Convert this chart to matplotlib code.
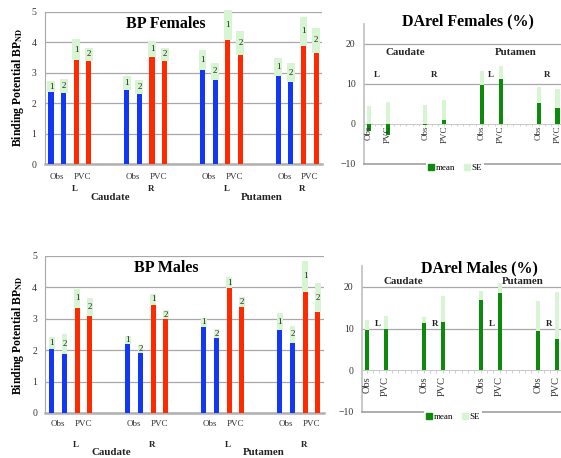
import numpy as np
import matplotlib.pyplot as plt
from matplotlib.lines import Line2D
from matplotlib.transforms import blended_transform_factory

plt.rcParams['font.family'] = ['Liberation Serif', 'DejaVu Serif']
plt.rcParams['mathtext.fontset'] = 'stix'

# --- data ---
regions = ["Caudate", "Putamen"]
sides = ["L", "R"]
methods = ["Obs", "PVC"]
scans = ["1", "2"]

# order per group: Obs1, Obs2, PVC1, PVC2 ; groups: Caud L, Caud R, Put L, Put R
bp_fem_mean = [2.36, 2.34, 3.40, 3.38, 2.43, 2.30, 3.50, 3.38,
               3.07, 2.75, 4.07, 3.57, 2.89, 2.70, 3.88, 3.65]
bp_fem_se = [0.36, 0.45, 0.70, 0.43, 0.46, 0.45, 0.55, 0.43,
             0.67, 0.58, 1.00, 0.80, 0.60, 0.60, 0.95, 0.82]
bp_male_mean = [2.03, 1.89, 3.34, 3.08, 2.19, 1.91, 3.43, 2.98,
                2.74, 2.39, 3.98, 3.38, 2.64, 2.24, 3.86, 3.21]
bp_male_se = [0.37, 0.61, 0.60, 0.56, 0.26, 0.25, 0.36, 0.29,
              0.29, 0.27, 0.33, 0.32, 0.53, 0.52, 0.98, 0.91]

# order: Caud L Obs, PVC, Caud R Obs, PVC, Put L Obs, PVC, Put R Obs, PVC
darel_fem_mean = [-1.7, -2.8, -0.4, 1.0, 9.8, 11.2, 5.2, 4.0]
darel_fem_se = [4.4, 5.5, 4.75, 4.9, 3.4, 3.2, 3.9, 4.6]
darel_male_mean = [9.7, 9.8, 11.35, 11.6, 16.9, 18.6, 9.4, 7.5]
darel_male_se = [2.3, 3.2, 1.35, 6.3, 2.1, 2.4, 7.3, 11.2]

BLUE = "#1238f5"
RED = "#ff2a00"
GREEN = "#0c8a0c"
LIGHT = "#d7f5d2"
GRID = "#a8a8a8"
TXT = "#333333"

W, H = 561, 458
fig = plt.figure(figsize=(W / 100, H / 100), dpi=100)


def px_axes(x0, x1, y_top, y_bot):
    return fig.add_axes([x0 / W, 1 - y_bot / H, (x1 - x0) / W, (y_bot - y_top) / H])


def bp_panel(ax, mean, se, title, title_xy, ylab_y, lab_y, se_w):
    pos = np.array([g * 6 + i for g in range(4) for i in range(4)])
    cols = [BLUE, BLUE, RED, RED] * 4
    ax.bar(pos, mean, width=0.4, color=cols, zorder=3)
    ax.bar(pos, se, bottom=mean, width=se_w, color=LIGHT, zorder=3, clip_on=False)
    for k, p in enumerate(pos):
        ax.text(p, mean[k] + se[k] / 2, scans[k % 2], ha="center", va="center",
                fontsize=6.5, color="#222", zorder=4, clip_on=False)
    ax.set_xlim(-0.5, 21.5)
    ax.set_ylim(0, 5)
    ax.set_yticks(range(6))
    ax.yaxis.grid(True, color=GRID, lw=0.9)
    ax.set_axisbelow(True)
    ax.tick_params(axis="y", length=0, labelsize=7, labelcolor=TXT, pad=6)
    ax.set_xticks([])
    for s in ["top", "right"]:
        ax.spines[s].set_visible(False)
    ax.spines["left"].set_color(GRID)
    ax.spines["bottom"].set_color("#b0b0b0")
    ax.spines["bottom"].set_linewidth(1.8)
    tr = blended_transform_factory(ax.transData, ax.transAxes)
    y_meth, y_side, y_reg = lab_y
    for g in range(4):
        ax.text(g * 6 + 0.5, y_meth, methods[0], transform=tr, ha="center", va="center",
                fontsize=6.5, color=TXT)
        ax.text(g * 6 + 2.5, y_meth, methods[1], transform=tr, ha="center", va="center",
                fontsize=6.5, color=TXT)
        ax.text(g * 6 + 1.9, y_side, sides[g % 2], transform=tr, ha="center", va="center",
                fontsize=6.5, fontweight="bold", color="#222")
    for r in range(2):
        ax.text(r * 12 + 4.7, y_reg, regions[r], transform=tr, ha="center", va="center",
                fontsize=7.8, fontweight="bold", color="#222")
    fig.text(title_xy[0] / W, 1 - title_xy[1] / H, title, ha="center", va="center",
             fontsize=11.5, fontweight="bold")
    fig.text(18 / W, 1 - ylab_y / H, r"Binding Potential BP$_{\mathbf{ND}}$",
             rotation=90, ha="center", va="center", fontsize=8.5, fontweight="bold")


def darel_panel(ax, mean, se, title, title_xy, reg_y, side_y, reg_x, side_dx,
                lab_off, lab_fs, legend_xy):
    pos = np.array([p * 3 + i for p in range(4) for i in range(2)])
    mean = np.array(mean)
    ax.bar(pos, mean, width=0.22, color=GREEN, zorder=3)
    ax.bar(pos, se, bottom=np.maximum(mean, 0), width=0.22, color=LIGHT, zorder=3)
    ax.set_xlim(-0.25, 10.5)
    ax.set_ylim(-10, 25)
    ax.set_yticks([-10, 0, 10, 20])
    ax.set_xticks([])
    for y in [10, 20]:
        ax.axhline(y, color=GRID, lw=0.9, zorder=1)
    ax.axhline(0, color="#c8c8c8", lw=0.7, zorder=1)
    ticks = np.arange(0, 10.6, 1 / 3)
    ax.vlines(ticks, -0.7, 0, color="#c8c8c8", lw=0.6, zorder=1)
    ax.tick_params(axis="y", length=0, labelsize=7, labelcolor=TXT, pad=6)
    for s in ["top", "right"]:
        ax.spines[s].set_visible(False)
    ax.spines["left"].set_color("#c0c0c0")
    ax.spines["left"].set_linewidth(1.2)
    ax.spines["bottom"].set_color("#a0a0a0")
    ax.spines["bottom"].set_linewidth(1.2)
    for k, p in enumerate(pos):
        ax.annotate(methods[k % 2], (p, 0), xytext=(0, -lab_off), textcoords="offset points",
                    rotation=90, ha="center", va="top", fontsize=lab_fs, color=TXT)
    for p in range(4):
        ax.text(p * 3 + 0.5 + side_dx, side_y, sides[p % 2], ha="center", va="center",
                fontsize=6.5, fontweight="bold", color="#222")
    for r in range(2):
        ax.text(reg_x[r], reg_y, regions[r], ha="center", va="center",
                fontsize=7.8, fontweight="bold", color="#222")
    fig.text(title_xy[0] / W, 1 - title_xy[1] / H, title, ha="center", va="center",
             fontsize=11.5, fontweight="bold")
    handles = [Line2D([], [], marker="s", ls="", color=GREEN, markersize=4),
               Line2D([], [], marker="s", ls="", color=LIGHT, markersize=4)]
    leg = fig.legend(handles, ["mean", "SE"], loc="center", ncol=2,
                     bbox_to_anchor=(legend_xy[0] / W, 1 - legend_xy[1] / H),
                     fontsize=6.5, frameon=True, handlelength=0.6, handletextpad=0.2,
                     columnspacing=1.0, borderpad=0.3)
    leg.get_frame().set_edgecolor("none")
    leg.get_frame().set_facecolor("white")
    leg.get_frame().set_alpha(1)


ax1 = px_axes(44.7, 322.4, 11.7, 164)
bp_panel(ax1, bp_fem_mean, bp_fem_se, "BP Females", (166, 24), 87,
         (-0.085, -0.164, -0.217), 0.62)

ax2 = px_axes(45.4, 324.3, 255.7, 413)
bp_panel(ax2, bp_male_mean, bp_male_se, "BP Males", (166, 268), 335,
         (-0.070, -0.203, -0.248), 0.45)

ax3 = px_axes(364, 567, 23.7, 163.7)
darel_panel(ax3, darel_fem_mean, darel_fem_se, "DArel Females (%)", (468, 21),
            17.8, 12.1, (1.96, 7.8), -0.05, 1.5, 6.5, (455, 168))

ax4 = px_axes(362, 566.2, 266.2, 411.7)
darel_panel(ax4, darel_male_mean, darel_male_se, "DArel Males (%)", (479, 268),
            21.4, 11.1, (1.91, 8.2), 0.1, 4.5, 7.5, (453, 416.5))

fig.savefig("out.png", dpi=100)
